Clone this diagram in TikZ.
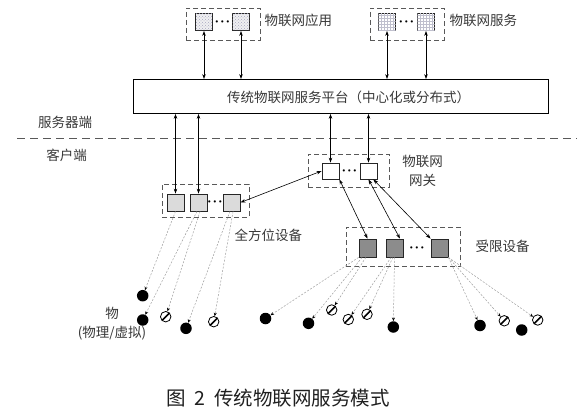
\documentclass[tikz,border=0pt]{standalone}
\usepackage{fontspec}
\newfontfamily\cjk{Noto Sans CJK SC}
\usepackage{tikz}
\usetikzlibrary{positioning, arrows.meta, patterns}

\begin{document}
\begin{tikzpicture}[x=1pt, y=-1pt,
	lbl/.style={text=black!78, font=\cjk\fontsize{13.5}{19}\selectfont},
	grp/.style={draw=black!65, dash pattern=on 5pt off 3pt, line width=0.9pt, inner sep=0pt},
	sq/.style={draw=black!85, line width=0.8pt, minimum width=17pt, minimum height=17pt, inner sep=0pt},
	appsq/.style={sq, fill=blue!6!black!6, postaction={pattern=crosshatch dots, pattern color=blue!30!black!35}},
	srvsq/.style={sq, fill=white, postaction={pattern=grid, pattern color=blue!22!black!25}},
	fullsq/.style={sq, fill=black!14},
	gwsq/.style={sq, fill=white, minimum height=16pt},
	limsq/.style={sq, fill=black!45, minimum height=18pt},
	dots/.style={inner sep=0pt, font=\fontsize{15}{15}\selectfont\boldmath},
	link/.style={{Stealth[length=5pt,width=3.5pt]}-{Stealth[length=5pt,width=3.5pt]}, line width=0.6pt},
	feed/.style={-{Stealth[length=3.5pt,width=3pt,black]}, draw=black!38, dash pattern=on 2pt off 1.5pt, line width=0.5pt},
	thing/.style={circle, fill=black, minimum size=11.5pt, inner sep=0pt},
	vthing/.style={circle, draw, fill=white, line width=0.8pt, minimum size=10.5pt, inner sep=0pt,
		path picture={\draw[line width=1.6pt] (path picture bounding box.south west) -- (path picture bounding box.north east);}},
]
	\useasboundingbox (0,0) rectangle (577,414);

	% 物联网应用
	\node (appbox) at (223,24) [grp, minimum width=74pt, minimum height=32pt] {};
	\node (app1) at (204,22) [appsq] {};
	\node (app2) at (241,22) [appsq] {};
	\node (appdots) at (222.5,22) [dots] {$\cdot\mkern-3mu\cdot\mkern-3mu\cdot$};
	\node (applbl) at (261,20) [lbl, anchor=west] {物联网应用};

	% 物联网服务
	\node (srvbox) at (407,24) [grp, minimum width=74pt, minimum height=32pt] {};
	\node (srv1) at (387,22) [srvsq] {};
	\node (srv2) at (426,22) [srvsq] {};
	\node (srvdots) at (406.5,22) [dots] {$\cdot\mkern-3mu\cdot\mkern-3mu\cdot$};
	\node (srvlbl) at (446,20) [lbl, anchor=west] {物联网服务};

	% 服务平台
	\node (platform) at (340.5,96.5) [draw, line width=0.8pt, minimum width=415pt, minimum height=34pt] {};
	\node (platlbl) at (348.5,97) [lbl] {传统物联网服务平台（中心化或分布式）};
	\draw[link] (app1.south) -- (app1 |- platform.north);
	\draw[link] (app2.south) -- (app2 |- platform.north);
	\draw[link] (srv1.south) -- (srv1 |- platform.north);
	\draw[link] (srv2.south) -- (srv2 |- platform.north);

	% 服务器端 / 客户端
	\coordinate (sepL) at (17,139);
	\coordinate (sepR) at (577,139);
	\draw[draw=black!65, dash pattern=on 8pt off 5pt, line width=1pt] (sepL) -- (sepR);
	\node (server) at (65,122) [lbl] {服务器端};
	\node (client) at (66.5,155) [lbl] {客户端};

	% 物联网网关
	\node (gwbox) at (348.5,170.5) [grp, minimum width=81pt, minimum height=33pt] {};
	\node (gw1) at (330.5,171) [gwsq] {};
	\node (gw2) at (368.5,171) [gwsq] {};
	\node (gwdots) at (349.5,171) [dots] {$\cdot\mkern-3mu\cdot\mkern-3mu\cdot$};
	\node (gwlbl) at (422.5,171) [lbl, align=center] {物联网\\网关};

	% 全方位设备
	\node (fullbox) at (205.5,200.5) [grp, minimum width=87pt, minimum height=33pt] {};
	\node (full1) at (175.5,202.5) [fullsq] {};
	\node (full2) at (198.5,202.5) [fullsq] {};
	\node (full3) at (231.5,202.5) [fullsq] {};
	\node (fulldots) at (215,202.5) [dots] {$\cdot\mkern-3mu\cdot\mkern-3mu\cdot$};
	\node (fulllbl) at (231,235) [lbl, anchor=west] {全方位设备};

	% 受限设备
	\node (limbox) at (403,246.5) [grp, minimum width=114pt, minimum height=39pt] {};
	\node (lim1) at (367.5,248) [limsq] {};
	\node (lim2) at (394.5,248) [limsq] {};
	\node (lim3) at (439.5,248) [limsq] {};
	\node (limdots) at (417,248) [dots] {$\cdot\mkern-3mu\cdot\mkern-3mu\cdot$};
	\node (limlbl) at (472,246) [lbl, anchor=west] {受限设备};

	\draw[link] (platform.south -| full1) -- (full1.north);
	\draw[link] (platform.south -| full2) -- (full2.north);
	\draw[link] (platform.south -| gw1) -- (gw1.north);
	\draw[link] (platform.south -| gw2) -- (gw2.north);
	\draw[link] (full3.east) -- (gw1.west);
	\draw[link] (gw1.south east) -- (lim1.north);
	\draw[link] (gw2.south) -- (lim2.60);
	\draw[link] (gw2.-60) -- (lim3.north west);

	% 物
	\node (tA) at (142.7,295.7) [thing] {};
	\node (tB) at (142.7,320) [thing] {};
	\node (tC) at (165.7,316.7) [vthing] {};
	\node (tD) at (186,328.3) [thing] {};
	\node (tE) at (213.7,321.7) [vthing] {};
	\node (tF) at (265.5,318.5) [thing] {};
	\node (tG) at (308.5,323.3) [thing] {};
	\node (tH) at (331.7,310) [vthing] {};
	\node (tI) at (348.3,319.5) [vthing] {};
	\node (tJ) at (367,314.3) [vthing] {};
	\node (tK) at (393.3,327) [thing] {};
	\node (tL) at (480,325.5) [thing] {};
	\node (tM) at (504.3,320.8) [vthing] {};
	\node (tN) at (521.7,330) [thing] {};
	\node (tO) at (537.7,320) [vthing] {};
	\node (thinglbl) at (112,324) [lbl, align=center] {物\\(物理/虚拟)};

	\draw[feed] (full1.south) -- (tA);
	\draw[feed] (full2.-100) -- (tB);
	\draw[feed] (full2.-80) -- (tC);
	\draw[feed] (full3.-100) -- (tD);
	\draw[feed] (full3.-80) -- (tE);
	\draw[feed] (lim1.south west) -- (tF);
	\draw[feed] (lim1.-120) -- (tG);
	\draw[feed] (lim1.-100) -- (tH);
	\draw[feed] (lim2.-110) -- (tI);
	\draw[feed] (lim2.-100) -- (tJ);
	\draw[feed] (lim2.-90) -- (tK);
	\draw[feed] (lim3.south east) -- (tL);
	\draw[feed] (lim3.south east) -- (tM);
	\draw[feed] (lim3.south east) -- (tO);

	% 图题
	\node (caption) at (278,398) [text=black!88, font=\cjk\fontsize{19.5}{22}\selectfont] {图\hspace{0.45em}2\hspace{0.45em}传统物联网服务模式};
\end{tikzpicture}
\end{document}
